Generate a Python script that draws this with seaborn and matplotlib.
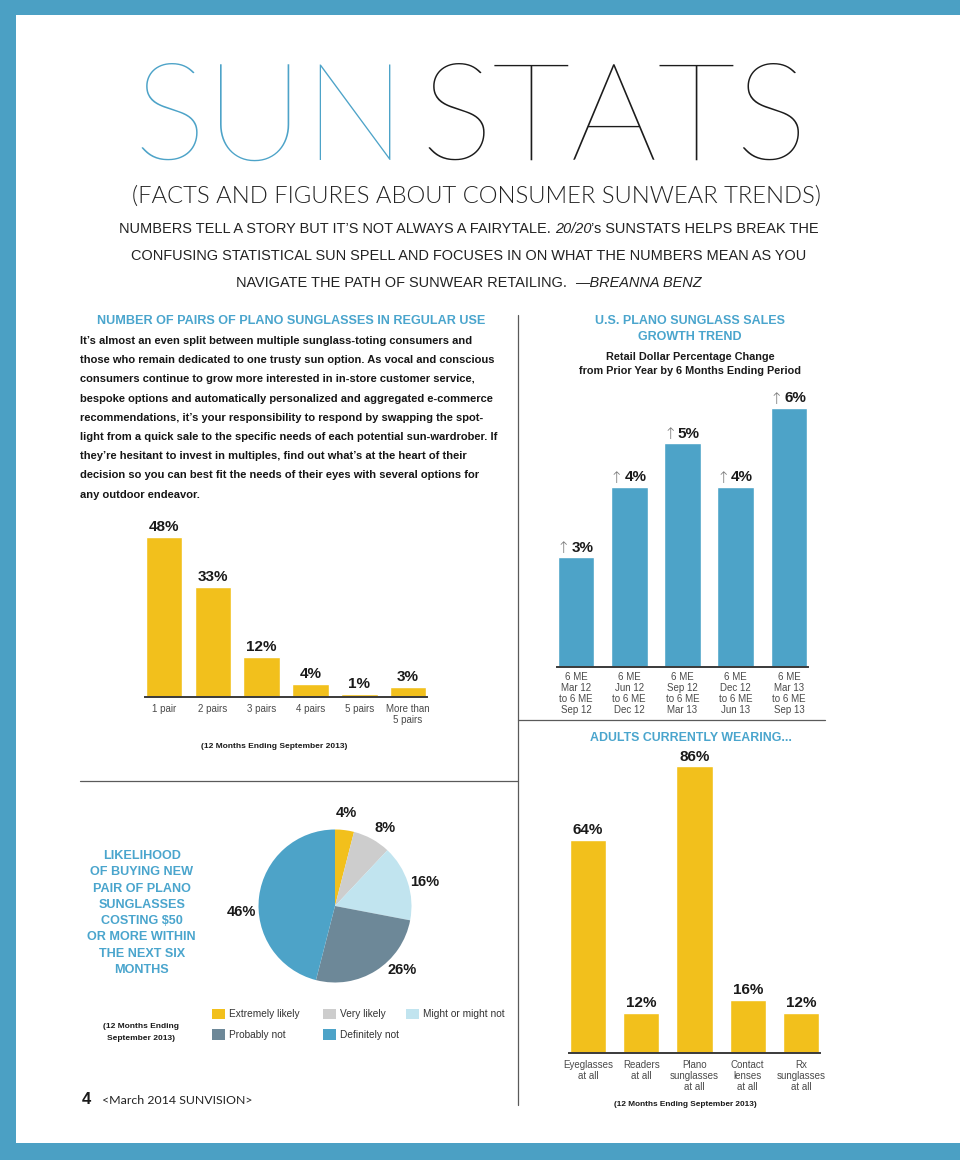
import matplotlib
matplotlib.use("Agg")
import matplotlib.pyplot as plt
import seaborn as sns
import numpy as np
from matplotlib.patches import Rectangle, Patch
from matplotlib.lines import Line2D

# ---------------- data ----------------
pairs_categories = ["1 pair", "2 pairs", "3 pairs", "4 pairs", "5 pairs", "More than\n5 pairs"]
pairs_values = [48, 33, 12, 4, 1, 3]

growth_categories = ["6 ME\nMar 12\nto 6 ME\nSep 12", "6 ME\nJun 12\nto 6 ME\nDec 12",
                     "6 ME\nSep 12\nto 6 ME\nMar 13", "6 ME\nDec 12\nto 6 ME\nJun 13",
                     "6 ME\nMar 13\nto 6 ME\nSep 13"]
growth_values = [2.5, 4.1, 5.1, 4.1, 5.9]
growth_labels = ["3%", "4%", "5%", "4%", "6%"]

wear_categories = ["Eyeglasses\nat all", "Readers\nat all", "Plano\nsunglasses\nat all",
                   "Contact\nlenses\nat all", "Rx\nsunglasses\nat all"]
wear_values = [64, 12, 86, 16, 12]

pie_categories = ["Extremely likely", "Very likely", "Might or might not", "Probably not", "Definitely not"]
pie_values = [4, 8, 16, 26, 46]

paragraph_lines = [
    "It\u2019s almost an even split between multiple sunglass-toting consumers and",
    "those who remain dedicated to one trusty sun option. As vocal and conscious",
    "consumers continue to grow more interested in in-store customer service,",
    "bespoke options and automatically personalized and aggregated e-commerce",
    "recommendations, it\u2019s your responsibility to respond by swapping the spot-",
    "light from a quick sale to the specific needs of each potential sun-wardrober. If",
    "they\u2019re hesitant to invest in multiples, find out what\u2019s at the heart of their",
    "decision so you can best fit the needs of their eyes with several options for",
    "any outdoor endeavor.",
]
pie_title_lines = ["LIKELIHOOD", "OF BUYING NEW", "PAIR OF PLANO", "SUNGLASSES",
                   "COSTING $50", "OR MORE WITHIN", "THE NEXT SIX", "MONTHS"]

# ---------------- style ----------------
YELLOW = "#F2C01C"
BLUE = "#4DA3C8"
HEAD_BLUE = "#4AA5CD"
FRAME = "#4BA0C4"
pie_colors = [YELLOW, "#CDCDCD", "#C1E4EF", "#6D8898", "#4DA3C8"]
pie_label_angle_shift = [0, -4, -3, 14, 11]   # degrees, label placement tweak

sns.set_theme(style="white")
SANS = ["Liberation Sans", "DejaVu Sans"]
GEO = ["Lato", "DejaVu Sans"]
plt.rcParams["font.family"] = SANS

W, H = 960, 1160
fig = plt.figure(figsize=(9.6, 11.6), dpi=100, facecolor="white")
renderer = fig.canvas.get_renderer()


def px_ax(x0, y0, x1, y1):
    return fig.add_axes([x0 / W, 1 - y1 / H, (x1 - x0) / W, (y1 - y0) / H])


def txt(x, y, s, **kw):
    kw.setdefault("ha", "center")
    kw.setdefault("va", "center")
    return fig.text(x / W, 1 - y / H, s, **kw)


def width_of(t):
    return t.get_window_extent(renderer).width


def fit(t, target):
    for _ in range(2):
        t.set_fontsize(t.get_fontsize() * target / width_of(t))
    return t.get_fontsize()


# ---------------- frame ----------------
for rect in [(0, 1 - 15 / H, 1, 15 / H), (0, 0, 16 / W, 1), (0, 0, 1, 17 / H)]:
    fig.patches.append(Rectangle(rect[:2], rect[2], rect[3], transform=fig.transFigure,
                                 facecolor=FRAME, edgecolor="none", zorder=0))

# ---------------- title ----------------
title_base = 170
sun = txt(133, title_base, "SUN", ha="left", va="baseline", color=BLUE, family=GEO,
          fontweight=200, fontsize=100)
stats = txt(300, title_base, "STATS", ha="left", va="baseline", color="#1c1c1c", family=GEO,
            fontweight=200, fontsize=100)
gap = 14
for _ in range(2):
    total = width_of(sun) + width_of(stats)
    f = (675 - gap) / total
    sun.set_fontsize(sun.get_fontsize() * f)
    stats.set_fontsize(stats.get_fontsize() * f)
stats.set_x((133 + width_of(sun) + gap) / W)
# keep title box clear of the subtitle box
title_bottom = H - sun.get_window_extent(renderer).y0
shift_up = max(0.0, title_bottom - 185)
for t in (sun, stats):
    t.set_y(1 - (title_base - shift_up) / H)

sub = txt(476, 193, "(FACTS AND FIGURES ABOUT CONSUMER SUNWEAR TRENDS)", family=GEO,
          fontweight=300, color="#222222", fontsize=16)
fit(sub, 688)
sub_top = H - sub.get_window_extent(renderer).y1
if sub_top < 186:
    sub.set_y(1 - (193 + 186 - sub_top) / H)

# intro lines with italic parts
intro = [
    [("NUMBERS TELL A STORY BUT IT\u2019S NOT ALWAYS A FAIRYTALE.", "normal", 1.0),
     ("20/20", "italic", 0.0), ("\u2019s SUNSTATS HELPS BREAK THE", "normal", 0.0)],
    [("CONFUSING STATISTICAL SUN SPELL AND FOCUSES IN ON WHAT THE NUMBERS MEAN AS YOU", "normal", 0.0)],
    [("NAVIGATE THE PATH OF SUNWEAR RETAILING.", "normal", 2.0), ("\u2014BREANNA BENZ", "italic", 0.0)],
]
fs_intro = 11.0
line_texts = []
for (segs, yc) in zip(intro, [229, 256, 283]):
    ts = [txt(0, yc, s, ha="left", fontsize=fs_intro, style=st, color="#222222") for s, st, g in segs]
    line_texts.append((segs, ts))


def layout_line(segs, ts, xc):
    spw = 0.28 * ts[0].get_fontsize() / 0.72
    widths = [width_of(t) for t in ts]
    total = sum(widths) + sum(g * spw for _, _, g in segs)
    x = xc - total / 2
    for t, w, (_, _, g) in zip(ts, widths, segs):
        t.set_x(x / W)
        x += w + g * spw
    return total


for _ in range(2):
    total1 = layout_line(*line_texts[0], 469)
    scale = 698 / total1
    for segs, ts in line_texts:
        for t in ts:
            t.set_fontsize(t.get_fontsize() * scale)
for segs, ts in line_texts:
    layout_line(segs, ts, 469)

# ---------------- dividers ----------------
for xs, ys in [([518, 518], [315, 1105]), ([80, 518], [781, 781]), ([518, 825], [720, 720])]:
    fig.add_artist(Line2D([v / W for v in xs], [1 - v / H for v in ys],
                          transform=fig.transFigure, color="#5a5a5a", lw=0.9))

# ---------------- left text ----------------
h1 = txt(291, 321, "NUMBER OF PAIRS OF PLANO SUNGLASSES IN REGULAR USE", color=HEAD_BLUE,
         fontweight="bold", fontsize=9)
fit(h1, 388)
par = [txt(80, 341 + 19.2 * i, line, ha="left", fontweight="bold", fontsize=8, color="#161616")
       for i, line in enumerate(paragraph_lines)]
for _ in range(2):
    widest = max(width_of(t) for t in par)
    s = 414 / widest
    for t in par:
        t.set_fontsize(t.get_fontsize() * s)


# ---------------- bar helper ----------------
def bar_panel(box, cats, vals, color, ymax, width, tick_pad):
    ax = px_ax(*box)
    sns.barplot(x=cats, y=vals, order=cats, color=color, saturation=1, width=width, ax=ax)
    n = len(cats)
    ax.set_xlim(-0.5, n - 0.5)
    ax.set_ylim(0, ymax)
    ax.set_facecolor("none")
    for s in ["left", "right", "top"]:
        ax.spines[s].set_visible(False)
    ax.spines["bottom"].set_bounds(-width / 2 - 0.02, n - 1 + width / 2 + 0.02)
    ax.spines["bottom"].set_color("#3a3a3a")
    ax.spines["bottom"].set_linewidth(1.4)
    ax.set_yticks([])
    ax.set_xlabel("")
    ax.set_ylabel("")
    ax.tick_params(axis="x", length=0, pad=tick_pad, labelsize=7, labelcolor="#4a4a4a")
    for t in ax.get_xticklabels():
        t.set_linespacing(1.12)
    return ax


# chart 1: pairs
ax1 = bar_panel((139.6, 517, 432.4, 697), pairs_categories, pairs_values, YELLOW, 54, 0.75, 5)
ax1.bar_label(ax1.containers[0], labels=[f"{v}%" for v in pairs_values], padding=2,
              fontsize=11, fontweight="bold", color="#1a1a1a")
c1 = txt(274, 746.5, "(12 Months Ending September 2013)", fontweight="bold", fontsize=7,
         color="#1a1a1a")
fit(c1, 146)

# chart 2: growth
h2a = txt(690, 321, "U.S. PLANO SUNGLASS SALES", color=HEAD_BLUE, fontweight="bold", fontsize=9)
fs_h2 = fit(h2a, 191)
txt(690, 336.5, "GROWTH TREND", color=HEAD_BLUE, fontweight="bold", fontsize=fs_h2)
s2b = txt(690, 371, "from Prior Year by 6 Months Ending Period", fontweight="bold", fontsize=8,
          color="#1a1a1a")
fs_s2 = fit(s2b, 224)
txt(690, 357, "Retail Dollar Percentage Change", fontweight="bold", fontsize=fs_s2, color="#1a1a1a")

ax2 = bar_panel((549.4, 394.8, 815.6, 666.7), growth_categories, growth_values, BLUE, 6.2, 0.69, 4.0)
for i, (v, lab) in enumerate(zip(growth_values, growth_labels)):
    num = ax2.annotate(lab, xy=(i, v), xytext=(4.5, 1.8), textcoords="offset points",
                       ha="center", va="bottom", fontsize=11, fontweight="bold", color="#1a1a1a")
    ax2.annotate("\u2191", xy=(0, 0.40), xycoords=num, xytext=(-1.0, 0), textcoords="offset points",
                 ha="right", va="center", fontsize=11.5, color="#7a7a7a",
                 family=["DejaVu Sans"], fontweight="light")

# chart 3: wearing
h3 = txt(691, 738, "ADULTS CURRENTLY WEARING...", color=HEAD_BLUE, fontweight="bold", fontsize=9)
fit(h3, 202)
ax3 = bar_panel((561.4, 760, 827.6, 1053), wear_categories, wear_values, YELLOW, 87.9, 0.68, 5)
ax3.bar_label(ax3.containers[0], labels=[f"{v}%" for v in wear_values], padding=2,
              fontsize=11, fontweight="bold", color="#1a1a1a")
c3 = txt(685.5, 1104, "(12 Months Ending September 2013)", fontweight="bold", fontsize=7,
         color="#1a1a1a")
fit(c3, 145)

# ---------------- pie ----------------
R = 76.5
L = 1.35
cx, cy = 335, 906
ax4 = px_ax(cx - R * L, cy - R * L, cx + R * L, cy + R * L)
wedges, _, autotexts = ax4.pie(pie_values, colors=pie_colors, startangle=90, counterclock=False,
                               autopct=lambda p: f"{p:.0f}%", pctdistance=1.22,
                               wedgeprops=dict(linewidth=0),
                               textprops=dict(fontsize=10.5, fontweight="bold", color="#1a1a1a"))
for w, t, d in zip(wedges, autotexts, pie_label_angle_shift):
    ang = np.deg2rad((w.theta1 + w.theta2) / 2 + d)
    t.set_position((1.22 * np.cos(ang), 1.22 * np.sin(ang)))
ax4.set_xlim(-L, L)
ax4.set_ylim(-L, L)
ax4.set_aspect("equal")
ax4.axis("off")

pt = [txt(141.7, 856 + 16.3 * i, line, color=HEAD_BLUE, fontweight="bold", fontsize=9)
      for i, line in enumerate(pie_title_lines)]
for _ in range(2):
    s = 109 / width_of(pt[5])
    for t in pt:
        t.set_fontsize(t.get_fontsize() * s)

pc = txt(140.7, 1026, "(12 Months Ending", fontweight="bold", fontsize=7, color="#1a1a1a")
fs_pc = fit(pc, 75.6)
txt(140.7, 1039, "September 2013)", fontweight="bold", fontsize=fs_pc, color="#1a1a1a")

color_of = dict(zip(pie_categories, pie_colors))
legend_columns = [([pie_categories[0], pie_categories[3]], 212),
                  ([pie_categories[1], pie_categories[4]], 323),
                  ([pie_categories[2]], 406)]
for entries, lx in legend_columns:
    handles = [Patch(facecolor=color_of[e], edgecolor="none", label=e) for e in entries]
    lg = fig.legend(handles=handles, loc="upper left", bbox_to_anchor=(lx / W, 1 - 1008.5 / H),
                    frameon=False, fontsize=7.3, handlelength=1.25, handleheight=1.25,
                    handletextpad=0.4, labelspacing=1.0, borderpad=0, borderaxespad=0)
    for t in lg.get_texts():
        t.set_color("#333333")

# ---------------- footer ----------------
txt(82, 1100, "4", ha="left", fontweight="bold", fontsize=12, color="#1a1a1a")
ft = txt(101.7, 1100, "<March 2014 SUNVISION>", ha="left", family=GEO, fontsize=8, color="#222222")
fit(ft, 151)

fig.savefig("out.png", dpi=100, facecolor="white")
